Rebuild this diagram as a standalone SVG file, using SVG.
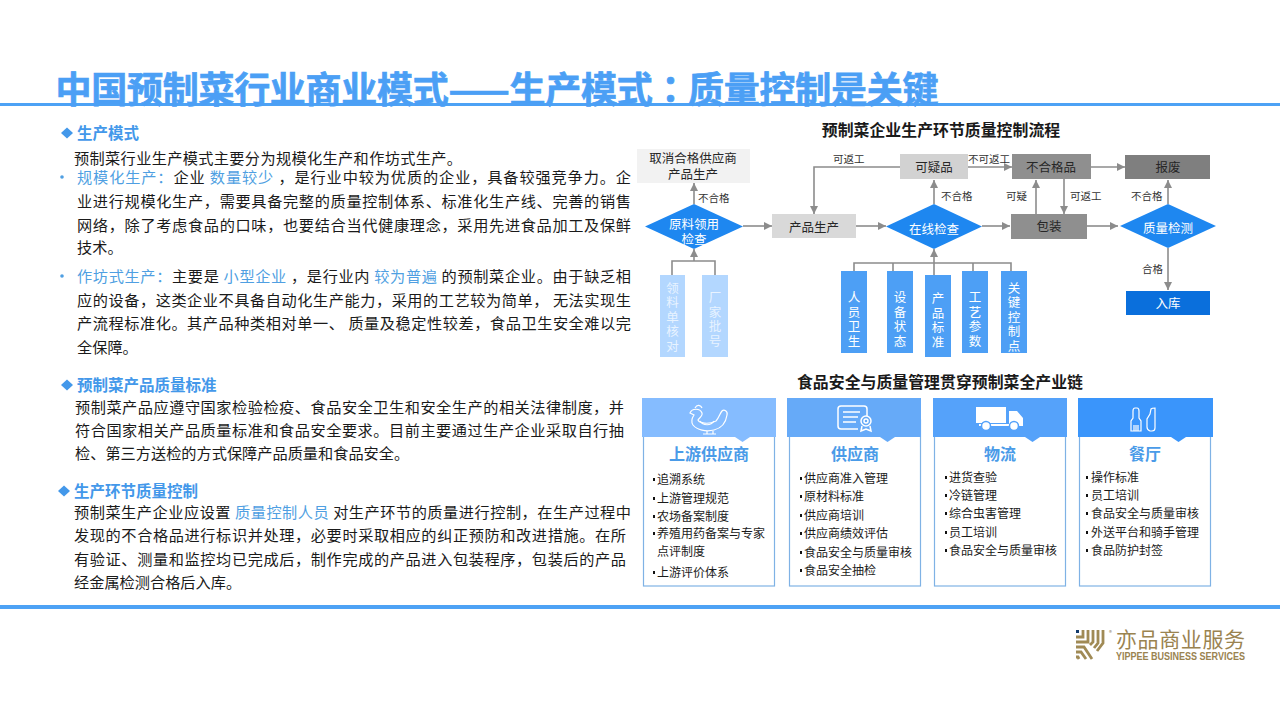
<svg xmlns="http://www.w3.org/2000/svg" width="1280" height="720" viewBox="0 0 1280 720">
<defs>
<marker id="arr" markerWidth="10" markerHeight="10" refX="8" refY="4" orient="auto" markerUnits="userSpaceOnUse"><path d="M0,0L8,4L0,8Z" fill="#8c8c8c"/></marker>
</defs>
<style>
text{font-family:"Noto Sans CJK SC","Liberation Sans",sans-serif;dominant-baseline:central}
.title{font-size:36px;font-weight:700;fill:#4b9ff5;stroke:#4b9ff5;stroke-width:.7}
.h{font-size:15.5px;font-weight:700;fill:#4398ea}
.b{font-size:15.2px;fill:#1a1a1a}
.hl{fill:#4f9fe2}
.ch{font-size:15.9px;font-weight:700;fill:#1a1a1a;text-anchor:middle}
.n{font-size:12.5px;fill:#262626;text-anchor:middle}
.nw{font-size:12.5px;fill:#fff;text-anchor:middle}
.l{font-size:10.5px;fill:#333}
.v,.vl{font-size:12.5px;writing-mode:vertical-rl;text-anchor:middle;letter-spacing:2px;dominant-baseline:auto}
.v{fill:#fff}
.vl{fill:#e8f3ff}
.ct{font-size:16px;font-weight:700;fill:#4a9be8;text-anchor:middle}
.it{font-size:12px;fill:#1a1a1a}
.c{fill:none;stroke:#8c8c8c;stroke-width:1.6}
.a{marker-end:url(#arr)}
.card{fill:#fff;stroke:#7fb2e5;stroke-width:1.2}
.ic{fill:none;stroke:#fff;stroke-width:1.2}
.g{fill:none;stroke:#a08a55;stroke-width:2.8}
</style>
<rect width="1280" height="720" fill="#fff"/>
<g id="frame">
<rect x="0" y="103" width="1280" height="3" fill="#4da2f5"/>
<rect x="0" y="605" width="1280" height="4" fill="#4da2f5"/>
<text class="title" x="55.500" y="87" textLength="883">中国预制菜行业商业模式——生产模式<tspan style="font-family:'Noto Sans CJK TC'">：</tspan>质量控制是关键</text>
</g>
<g id="left-text">
<path d="M61,133L67,127.500L73,133L67,138.500Z" fill="#4398ea"/>
<text class="h" x="77" y="132">生产模式</text>
<text class="b" x="74" y="157" textLength="388">预制菜行业生产模式主要分为规模化生产和作坊式生产。</text>
<circle cx="62" cy="177" r="1.800" fill="#4f9fe2"/>
<text class="b" x="77" y="176" textLength="554"><tspan class="hl">规模化生产：</tspan>企业 <tspan class="hl">数量较少</tspan> ，是行业中较为优质的企业，具备较强竞争力。企</text>
<text class="b" x="77" y="200" textLength="554">业进行规模化生产，需要具备完整的质量控制体系、标准化生产线、完善的销售</text>
<text class="b" x="77" y="224" textLength="554">网络，除了考虑食品的口味，也要结合当代健康理念，采用先进食品加工及保鲜</text>
<text class="b" x="77" y="246">技术。</text>
<circle cx="62" cy="276" r="1.800" fill="#4f9fe2"/>
<text class="b" x="77" y="275" textLength="554"><tspan class="hl">作坊式生产：</tspan>主要是 <tspan class="hl">小型企业</tspan> ，是行业内 <tspan class="hl">较为普遍</tspan> 的预制菜企业。由于缺乏相</text>
<text class="b" x="77" y="299" textLength="554">应的设备，这类企业不具备自动化生产能力，采用的工艺较为简单， 无法实现生</text>
<text class="b" x="77" y="322" textLength="554">产流程标准化。其产品种类相对单一、 质量及稳定性较差，食品卫生安全难以完</text>
<text class="b" x="77" y="346">全保障。</text>
<path d="M61,385L67,379.500L73,385L67,390.500Z" fill="#4398ea"/>
<text class="h" x="77" y="384">预制菜产品质量标准</text>
<text class="b" x="75" y="406" textLength="549">预制菜产品应遵守国家检验检疫、食品安全卫生和安全生产的相关法律制度，并</text>
<text class="b" x="75" y="429" textLength="549">符合国家相关产品质量标准和食品安全要求。目前主要通过生产企业采取自行抽</text>
<text class="b" x="75" y="452">检、第三方送检的方式保障产品质量和食品安全。</text>
<path d="M58,491L64,485.500L70,491L64,496.500Z" fill="#4398ea"/>
<text class="h" x="74" y="490">生产环节质量控制</text>
<text class="b" x="74" y="511" textLength="557">预制菜生产企业应设置 <tspan class="hl">质量控制人员</tspan> 对生产环节的质量进行控制，在生产过程中</text>
<text class="b" x="74" y="534" textLength="552">发现的不合格品进行标识并处理，必要时采取相应的纠正预防和改进措施。在所</text>
<text class="b" x="74" y="558" textLength="552">有验证、测量和监控均已完成后，制作完成的产品进入包装程序，包装后的产品</text>
<text class="b" x="74" y="581">经金属检测合格后入库。</text>
</g>
<text class="ch" x="941" y="129">预制菜企业生产环节质量控制流程</text>
<g id="connectors">
<path class="c a" d="M694,204V183"/>
<path class="c a" d="M743,226H772"/>
<path class="c a" d="M856,226H886"/>
<path class="c a" d="M900,167H814V214"/>
<path class="c a" d="M934,204V180"/>
<path class="c a" d="M968,167H1012"/>
<path class="c a" d="M1091,167H1125"/>
<path class="c a" d="M982,226H1010"/>
<path class="c a" d="M1036,214V180"/>
<path class="c a" d="M1064,179V214"/>
<path class="c a" d="M1087,226H1118"/>
<path class="c a" d="M1168,204V180"/>
<path class="c a" d="M1168,248V290"/>
<path class="c" d="M672,275V261H715V275"/>
<path class="c a" d="M694,261V249"/>
<path class="c" d="M854,271V263H1011V271M893,263V271M973,263V271"/>
<path class="c a" d="M934,275V249"/>
</g>
<g id="n-cancel"><rect x="637" y="149" width="113" height="34" fill="#f2f2f2"/><text class="n"><tspan x="693" y="157">取消合格供应商</tspan><tspan x="693" y="173">产品生产</tspan></text></g>
<g id="n-raw"><path d="M645,226.500L694,204L743,226.500L694,249Z" fill="#1e87f0"/><text class="nw"><tspan x="694" y="222.500">原料领用</tspan><tspan x="694" y="237.500">检查</tspan></text></g>
<g id="n-prod"><rect x="772" y="214" width="84" height="24" fill="#d9d9d9"/><text class="n" x="814" y="226">产品生产</text></g>
<g id="n-inline"><path d="M886,226.500L934,204L982,226.500L934,249Z" fill="#1e87f0"/><text class="nw" x="934" y="228">在线检查</text></g>
<g id="n-suspect"><rect x="900" y="154" width="68" height="25" fill="#d2d2d2"/><text class="n" x="934" y="166">可疑品</text></g>
<g id="n-fail"><rect x="1012" y="154" width="79" height="25" fill="#8f8f8f"/><text class="n" x="1051" y="166">不合格品</text></g>
<g id="n-scrap"><rect x="1125" y="155" width="85" height="24" fill="#7f7f7f"/><text class="n" x="1168" y="166">报废</text></g>
<g id="n-pack"><rect x="1011" y="214" width="76" height="25" fill="#8f8f8f"/><text class="n" x="1049" y="225">包装</text></g>
<g id="n-qc"><path d="M1120,226L1168,204L1216,226L1168,248Z" fill="#1e87f0"/><text class="nw" x="1168" y="227">质量检测</text></g>
<g id="n-store"><rect x="1126" y="291" width="84" height="24" fill="#0a6fdc"/><text class="nw" x="1168" y="302">入库</text></g>
<g id="edge-labels">
<text class="l" x="698" y="197">不合格</text>
<text class="l" x="833" y="158">可返工</text>
<text class="l" x="941" y="195">不合格</text>
<text class="l" x="968" y="158">不可返工</text>
<text class="l" x="1006" y="195">可疑</text>
<text class="l" x="1070" y="195">可返工</text>
<text class="l" x="1131" y="195">不合格</text>
<text class="l" x="1142" y="268">合格</text>
</g>
<g id="n-in1"><rect x="660" y="275" width="25" height="82" fill="#b3d7ff"/><text class="vl" x="672.500" y="318">领料单核对</text></g>
<g id="n-in2"><rect x="702" y="275" width="26" height="82" fill="#b3d7ff"/><text class="vl" x="715" y="320">厂家批号</text></g>
<g id="n-in3"><rect x="841" y="271" width="26" height="82" fill="#4d9ff5"/><text class="v" x="854" y="320">人员卫生</text></g>
<g id="n-in4"><rect x="887" y="271" width="26" height="82" fill="#4d9ff5"/><text class="v" x="900" y="320">设备状态</text></g>
<g id="n-in5"><rect x="925" y="275" width="26" height="82" fill="#4d9ff5"/><text class="v" x="938" y="321">产品标准</text></g>
<g id="n-in6"><rect x="962" y="271" width="26" height="82" fill="#4d9ff5"/><text class="v" x="975" y="320">工艺参数</text></g>
<g id="n-in7"><rect x="1001" y="271" width="26" height="82" fill="#4d9ff5"/><text class="v" x="1014" y="318">关键控制点</text></g>
<text class="ch" x="940" y="381">食品安全与质量管理贯穿预制菜全产业链</text>
<g id="card1">
<rect class="card" x="643.500" y="420" width="131" height="166"/>
<rect x="642" y="398" width="134" height="39" fill="#85bcff"/>
<path d="M735,437H750L742.500,442Z" fill="#85bcff"/>
<g class="ic"><path d="M690,413C692,408 700,408 702,413C703,416 699,418 698,420C699,423 708,425 716,421C719,418 720,413 722,411C724,409 728,411 727,415C726,422 722,428 714,430C706,432 697,430 693,425C691,422 692,418 694,415Z"/><path d="M695,408C697,404 701,405 702,408M700,421C703,426 711,426 714,421M707,431V434M713,431V434M703,434H716"/></g>
<text class="ct" x="709" y="453">上游供应商</text>
<text class="it" x="657" y="478">追溯系统</text><text class="it" x="657" y="497">上游管理规范</text><text class="it" x="657" y="515">农场备案制度</text><text class="it" x="657" y="532">养殖用药备案与专家</text><text class="it" x="657" y="550">点评制度</text><text class="it" x="657" y="571">上游评价体系</text>
<path d="M653,478h2v3h-2zM653,497h2v3h-2zM653,515h2v3h-2zM653,532h2v3h-2zM653,571h2v3h-2z" fill="#111"/>
</g>
<g id="card2">
<rect class="card" x="789.500" y="420" width="131" height="166"/>
<rect x="787" y="398" width="134" height="39" fill="#66aaf8"/>
<path d="M880,437H895L887.500,442Z" fill="#66aaf8"/>
<g class="ic" style="stroke-width:1.500"><path d="M858,429H841Q838,429 838,426V409Q838,406 841,406H864Q867,406 867,409V416"/><path d="M843,412H860M843,417H858M843,422H856"/><circle cx="866" cy="421" r="5"/><circle cx="866" cy="421" r="2"/><path d="M862,426L861,431L866,429L871,431L870,426"/></g>
<text class="ct" x="855" y="453">供应商</text>
<text class="it" x="804" y="477">供应商准入管理</text><text class="it" x="804" y="495">原材料标准</text><text class="it" x="804" y="514">供应商培训</text><text class="it" x="804" y="532">供应商绩效评估</text><text class="it" x="804" y="551">食品安全与质量审核</text><text class="it" x="804" y="569">食品安全抽检</text>
<path d="M800,477h2v3h-2zM800,495h2v3h-2zM800,514h2v3h-2zM800,532h2v3h-2zM800,551h2v3h-2zM800,569h2v3h-2z" fill="#111"/>
</g>
<g id="card3">
<rect class="card" x="934.500" y="420" width="131" height="166"/>
<rect x="933" y="398" width="134" height="39" fill="#55a2fa"/>
<path d="M1025,437H1040L1032.500,442Z" fill="#55a2fa"/>
<path d="M976,407H1006V423H976ZM1009,411H1017L1023,418V426H1009Z" fill="#fff"/><rect x="979" y="424" width="40" height="2" fill="#fff"/>
<circle cx="986" cy="426" r="4.500" fill="#fff" stroke="#55a2fa" stroke-width="1.500"/><circle cx="1014" cy="426" r="4.500" fill="#fff" stroke="#55a2fa" stroke-width="1.500"/>
<text class="ct" x="1000" y="453">物流</text>
<text class="it" x="949" y="476">进货查验</text><text class="it" x="949" y="494">冷链管理</text><text class="it" x="949" y="512">综合虫害管理</text><text class="it" x="949" y="531">员工培训</text><text class="it" x="949" y="549">食品安全与质量审核</text>
<path d="M945,476h2v3h-2zM945,494h2v3h-2zM945,512h2v3h-2zM945,531h2v3h-2zM945,549h2v3h-2z" fill="#111"/>
</g>
<g id="card4">
<rect class="card" x="1079.500" y="420" width="131" height="166"/>
<rect x="1078" y="398" width="135" height="39" fill="#3a95fb"/>
<path d="M1171,437H1186L1178.500,442Z" fill="#3a95fb"/>
<g class="ic"><path d="M1135,408Q1133,408 1133,411V418L1131,421V431H1141V421L1139,418V411Q1139,408 1137,408Z"/><path d="M1134,425V431M1136,425V431M1138,425V431"/><path d="M1155,408V428Q1155,431 1152,431H1150Q1147,430 1147,427V419L1150,414L1151,409Q1152,408 1155,408Z"/></g>
<text class="ct" x="1145" y="453">餐厅</text>
<text class="it" x="1091" y="476">操作标准</text><text class="it" x="1091" y="494">员工培训</text><text class="it" x="1091" y="512">食品安全与质量审核</text><text class="it" x="1091" y="531">外送平台和骑手管理</text><text class="it" x="1091" y="549">食品防护封签</text>
<path d="M1086,476h2v3h-2zM1086,494h2v3h-2zM1086,512h2v3h-2zM1086,531h2v3h-2zM1086,549h2v3h-2z" fill="#111"/>
</g>
<g id="logo">
<rect x="1076" y="630" width="3" height="3" fill="#123a6b"/>
<path class="g" d="M1076,637H1083V630M1076,642H1088V630M1093,630V642L1090,645M1098,630V643L1094,648M1103,630V643L1097,651"/>
<path class="g" d="M1076,647H1084L1092,659M1076,652H1081L1086,659M1076,657H1078L1079,659"/>
<text x="1109" y="632" style="font-size:6px;fill:#8a7a55">®</text>
<text style="fill:#9a8350"><tspan x="1116" y="638" textLength="129" style="font-size:21px">亦品商业服务</tspan><tspan x="1116" y="656" textLength="129" lengthAdjust="spacingAndGlyphs" style="font-size:10.500px;font-weight:700;font-family:'Liberation Sans',sans-serif">YIPPEE BUSINESS SERVICES</tspan></text>
</g>
</svg>
